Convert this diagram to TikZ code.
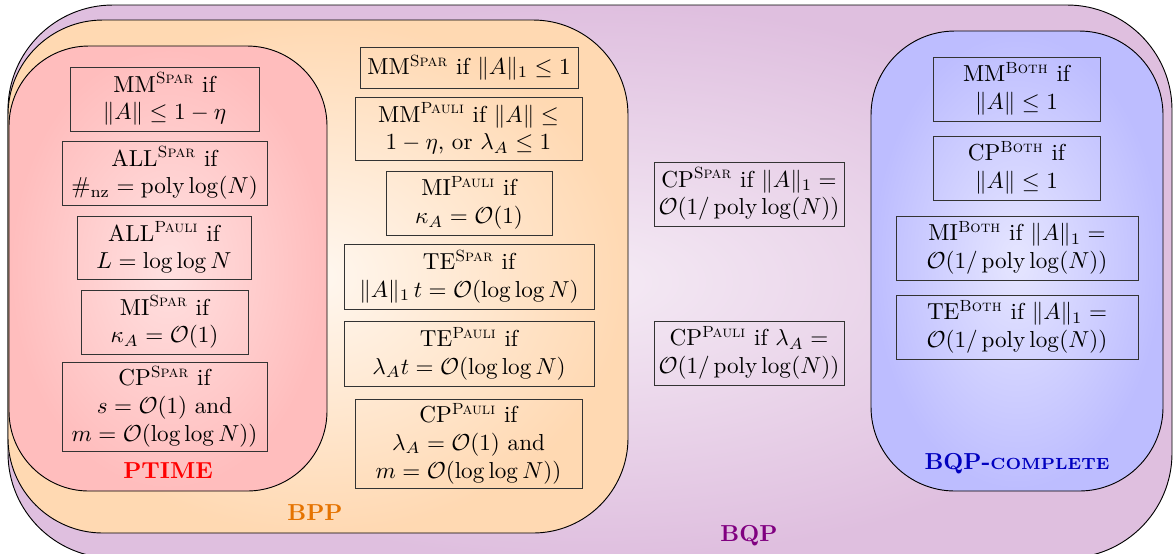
\documentclass[tikz,border=0pt]{standalone}
\usepackage{amsmath,amssymb}
\newcommand{\nrm}[1]{\lVert #1\rVert}
\newcommand{\Oh}{\mathcal{O}}
\newcommand{\sps}[1]{$^{\textsc{#1}}$}
\def\pxu{0.4325pt}
\tikzset{
  cbox/.style={draw=black!80, line width=0.4pt, align=center, inner sep=1pt},
  region/.style={draw=black, line width=0.4pt},
  lbl/.style={font=\bfseries},
}
\begin{document}
\begin{tikzpicture}[x=0.4325pt,y=-0.4325pt]
\useasboundingbox (0,0) rectangle (1176,553);
% regions
\path[region, shade, inner color=violet!8, outer color=violet!25, rounded corners=105*\pxu]
  (8,5) rectangle (1172,558);
\path[region, shade, inner color=orange!6, outer color=orange!30, rounded corners=95*\pxu]
  (8,20) rectangle (628,533);
\path[region, shade, inner color=red!12, outer color=red!26, rounded corners=80*\pxu]
  (9,46) rectangle (327,491);
\path[region, shade, inner color=blue!10, outer color=blue!26, rounded corners=84*\pxu]
  (871,31) rectangle (1163,491);
% labels
\node[lbl, text=red] (lp) at (168,471) {PTIME};
\node[lbl, text=orange!90!black] (lbpp) at (315,513) {BPP};
\node[lbl, text=violet] (lbqp) at (749,536) {BQP};
\node[lbl, text=blue!75!black] (lbc) at (1017,464) {BQP-{\scriptsize COMPLETE}};
% PTIME boxes
\node[cbox, minimum width=189*\pxu, minimum height=64*\pxu] (p1) at (164.5,99) {MM\sps{Spar} if\\ $\nrm{A}\le 1-\eta$};
\node[cbox, minimum width=205*\pxu, minimum height=64*\pxu] (p2) at (164.5,173) {ALL\sps{Spar} if\\ $\#_{\mathrm{nz}}=\operatorname{poly}\log(N)$};
\node[cbox, minimum width=174*\pxu, minimum height=63*\pxu] (p3) at (164,247.5) {ALL\sps{Pauli} if\\ $L=\log\log N$};
\node[cbox, minimum width=167*\pxu, minimum height=64*\pxu] (p4) at (164.5,322) {MI\sps{Spar} if\\ $\kappa_A=\Oh(1)$};
\node[cbox, minimum width=205*\pxu, minimum height=89*\pxu] (p5) at (164.5,406.5) {CP\sps{Spar} if\\ $s=\Oh(1)$ and\\ $m=\Oh(\log\log N))$};
% BPP boxes
\node[cbox, minimum width=218*\pxu, minimum height=41*\pxu] (b1) at (469,67.5) {MM\sps{Spar} if $\nrm{A}_1\le 1$};
\node[cbox, minimum width=227*\pxu, minimum height=63*\pxu] (b2) at (468.5,128.5) {MM\sps{Pauli} if $\nrm{A}\le$\\ $1-\eta$, or $\lambda_A\le 1$};
\node[cbox, minimum width=166*\pxu, minimum height=64*\pxu] (b3) at (469,203) {MI\sps{Pauli} if\\ $\kappa_A=\Oh(1)$};
\node[cbox, minimum width=250*\pxu, minimum height=65*\pxu] (b4) at (469,276.5) {TE\sps{Spar} if\\ $\nrm{A}_1\,t=\Oh(\log\log N)$};
\node[cbox, minimum width=250*\pxu, minimum height=65*\pxu] (b5) at (469,353.5) {TE\sps{Pauli} if\\ $\lambda_A t=\Oh(\log\log N)$};
\node[cbox, minimum width=227*\pxu, minimum height=89*\pxu] (b6) at (468.5,443.5) {CP\sps{Pauli} if\\ $\lambda_A=\Oh(1)$ and\\ $m=\Oh(\log\log N))$};
% BQP boxes
\node[cbox, minimum width=190*\pxu, minimum height=64*\pxu] (q1) at (749,194) {CP\sps{Spar} if $\nrm{A}_1=$\\ $\Oh(1/\operatorname{poly}\log(N))$};
\node[cbox, minimum width=190*\pxu, minimum height=64*\pxu] (q2) at (749,353) {CP\sps{Pauli} if $\lambda_A=$\\ $\Oh(1/\operatorname{poly}\log(N))$};
% BQP-complete boxes
\node[cbox, minimum width=167*\pxu, minimum height=64*\pxu] (c1) at (1016.5,89) {MM\sps{Both} if\\ $\nrm{A}\le 1$};
\node[cbox, minimum width=167*\pxu, minimum height=64*\pxu] (c2) at (1016.5,168) {CP\sps{Both} if\\ $\nrm{A}\le 1$};
\node[cbox, minimum width=242*\pxu, minimum height=64*\pxu] (c3) at (1017,248) {MI\sps{Both} if $\nrm{A}_1=$\\ $\Oh(1/\operatorname{poly}\log(N))$};
\node[cbox, minimum width=242*\pxu, minimum height=64*\pxu] (c4) at (1017,327) {TE\sps{Both} if $\nrm{A}_1=$\\ $\Oh(1/\operatorname{poly}\log(N))$};
\end{tikzpicture}
\end{document}
